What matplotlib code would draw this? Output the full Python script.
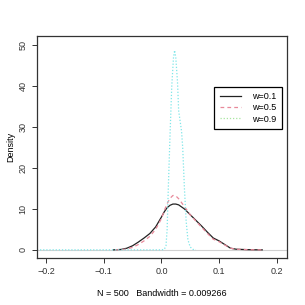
import matplotlib
matplotlib.use('Agg')
import matplotlib.pyplot as plt
from matplotlib.lines import Line2D

plt.rcParams['font.family'] = ['Liberation Sans', 'DejaVu Sans']

# densidad con w=0.1
x_w01 = [-0.083, -0.07, -0.06, -0.05, -0.04, -0.03, -0.02, -0.01, 0.0, 0.005,
         0.01, 0.015, 0.02, 0.025, 0.03, 0.04, 0.05, 0.06, 0.07, 0.08,
         0.09, 0.1, 0.11, 0.12, 0.13, 0.14, 0.15, 0.16, 0.175]
y_w01 = [0.0, 0.1, 0.4, 1.0, 1.9, 2.9, 4.0, 5.6, 8.0, 9.3,
         10.3, 10.9, 11.2, 11.2, 11.0, 10.0, 8.6, 7.2, 5.8, 4.3,
         2.9, 2.2, 1.3, 0.4, 0.15, 0.1, 0.05, 0.02, 0.0]

# densidad con w=0.5
x_w05 = [-0.08, -0.07, -0.06, -0.05, -0.04, -0.03, -0.02, -0.01, 0.0, 0.005,
         0.01, 0.015, 0.02, 0.025, 0.03, 0.04, 0.05, 0.06, 0.07, 0.08,
         0.09, 0.1, 0.11, 0.12, 0.13, 0.14, 0.15, 0.16, 0.175]
y_w05 = [0.0, 0.05, 0.2, 0.6, 1.3, 2.2, 3.3, 5.0, 7.6, 9.6,
         11.3, 12.6, 13.3, 13.2, 12.5, 10.6, 8.6, 7.0, 5.5, 4.0,
         2.6, 2.0, 1.2, 0.4, 0.15, 0.1, 0.05, 0.02, 0.0]

# densidad con w=0.9
x_w09 = [-0.216, -0.1, 0.0, 0.005, 0.008, 0.01, 0.012, 0.015, 0.018, 0.021,
         0.023, 0.025, 0.028, 0.03, 0.033, 0.035, 0.037, 0.04, 0.043, 0.046,
         0.05, 0.055, 0.06]
y_w09 = [0.0, 0.0, 0.0, 0.1, 1.0, 5.0, 15.0, 28.0, 40.0, 47.0,
         48.8, 47.0, 41.0, 34.0, 31.0, 29.0, 25.0, 15.0, 7.0, 2.5,
         0.7, 0.1, 0.0]

etiquetas = ['w=0.1', 'w=0.5', 'w=0.9']
xticks = [-0.2, -0.1, 0.0, 0.1, 0.2]
yticks = [0, 10, 20, 30, 40, 50]

fig = plt.figure(figsize=(3.05, 3.05), dpi=100)
ax = fig.add_axes([0.121, 0.154, 0.820, 0.728])

ax.axhline(0, color='#D0D0D0', lw=0.8, zorder=0)
ax.plot(x_w01, y_w01, color='#222222', lw=0.9, ls='-')
ax.plot(x_w05, y_w05, color='#E8899A', lw=0.9, ls=(0, (3, 2.5)))
ax.plot(x_w09, y_w09, color='#7FE6E8', lw=0.9, ls=(0, (1, 1.5)))

ax.set_xlim(-0.216, 0.218)
ax.set_ylim(-2.0, 52.3)
ax.set_xticks(xticks)
ax.set_xticklabels(['\u22120.2', '\u22120.1', '0.0', '0.1', '0.2'])
ax.set_yticks(yticks)
ax.set_yticklabels([str(v) for v in yticks], rotation=90, va='center')
ax.tick_params(direction='out', length=3.6, width=0.7, labelsize=6.5, pad=3,
               colors='#333333')
for s in ax.spines.values():
    s.set_linewidth(0.9)
    s.set_color('#333333')

ax.set_xlabel('N = 500   Bandwidth = 0.009266', fontsize=6.5)
ax.xaxis.set_label_coords(0.5, -0.14)
ax.set_ylabel('Density', fontsize=6.5)
ax.yaxis.set_label_coords(-0.088, 0.5)

manejadores = [
    Line2D([], [], color='#222222', lw=0.9, ls='-'),
    Line2D([], [], color='#E8899A', lw=0.9, ls=(0, (3, 2.5))),
    Line2D([], [], color='#A8E6A0', lw=0.9, ls=(0, (1, 1.5))),
]
leg = ax.legend(manejadores, etiquetas, loc='upper right',
                bbox_to_anchor=(0.979, 0.772), borderaxespad=0,
                fontsize=6.5, fancybox=False, framealpha=1,
                handlelength=2.4, labelspacing=0.25, handletextpad=1.2,
                borderpad=0.6)
leg.get_frame().set_edgecolor('black')
leg.get_frame().set_linewidth(0.9)

fig.savefig('out.png', dpi=100)
